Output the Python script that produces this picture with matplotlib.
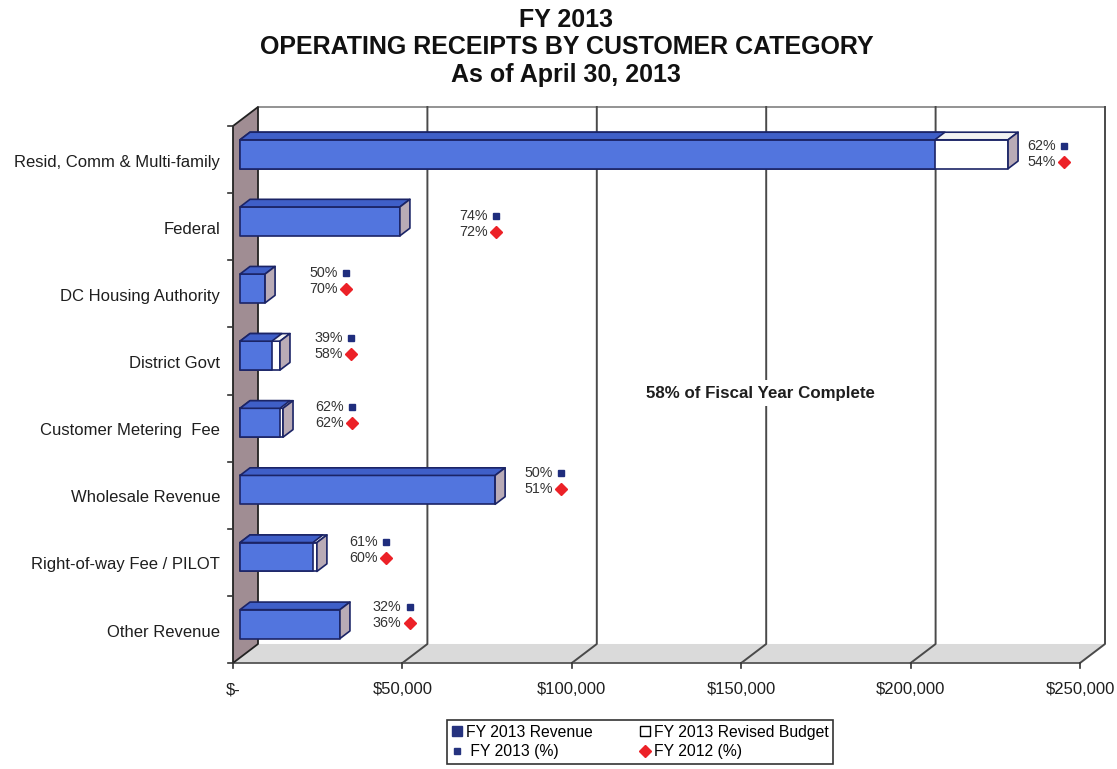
import matplotlib
matplotlib.use("Agg")
import matplotlib.pyplot as plt
from matplotlib.patches import Polygon
from matplotlib.lines import Line2D

plt.rcParams['font.family'] = ['Liberation Sans', 'DejaVu Sans']

# receipts by customer category, FY 2013 through April 30
categories = ['Resid, Comm & Multi-family', 'Federal', 'DC Housing Authority',
              'District Govt', 'Customer Metering  Fee', 'Wholesale Revenue',
              'Right-of-way Fee / PILOT', 'Other Revenue']
revenue = [205100, 47200, 7400, 9400, 11800, 75300, 21500, 29500]
budget = [226700, 47200, 7400, 11800, 12700, 75300, 22700, 29500]
pct_2013 = [62, 74, 50, 39, 62, 50, 61, 32]
pct_2012 = [54, 72, 70, 58, 62, 51, 60, 36]

x_ticks = [0, 50000, 100000, 150000, 200000, 250000]
x_ticklabels = ['$-', '$50,000', '$100,000', '$150,000', '$200,000', '$250,000']
xmax = 250000

# where the percent callouts sit (dollars, category offset)
pct_x = [245300, 77600, 33350, 34800, 35100, 96800, 45200, 52200]
pct_dy = [-0.20, -0.16, -0.31, -0.34, -0.31, -0.33, -0.30, -0.34]

BLUE = '#5275de'
BLUE_TOP = '#3f5fc8'
NAVY = '#1b2466'
END = '#b9abb6'
WALL = '#a08d93'
FLOOR = '#dadada'
TXT = '#1e1e1e'

fig = plt.figure(figsize=(11.17, 7.69), dpi=100)
ax = fig.add_axes([233 / 1117, 106 / 769, 847 / 1117, 537 / 769])
ax.set_xlim(0, xmax)
ax.set_ylim(len(categories) - 0.5, -0.5)
ax.axis('off')

# depth of the 3-D box, in data units
DX = 25 * xmax / 847
DY = -19 / 67.1
ybot = len(categories) - 0.5
ytop = -0.5


def poly(pts, fc, ec='none', lw=1.0, z=1):
    ax.add_patch(Polygon(pts, closed=True, facecolor=fc, edgecolor=ec,
                         linewidth=lw, zorder=z, clip_on=False,
                         joinstyle='round'))


def box(x0, x1, yc, h, face, top, side, z, draw_side=True):
    f0, f1 = 0.28, 0.68
    ax0, ax1 = x0 + f0 * DX, x1 + f0 * DX
    bx0, bx1 = x0 + f1 * DX, x1 + f1 * DX
    yt, yb = yc + f0 * DY - h / 2, yc + f0 * DY + h / 2
    dy = (f1 - f0) * DY
    poly([(ax0, yt), (ax1, yt), (ax1, yb), (ax0, yb)], face, NAVY, 1.2, z)
    poly([(ax0, yt), (ax1, yt), (bx1, yt + dy), (bx0, yt + dy)],
         top, NAVY, 1.2, z)
    if draw_side:
        poly([(ax1, yt), (bx1, yt + dy), (bx1, yb + dy), (ax1, yb)],
             side, NAVY, 1.2, z)


# floor and left wall
poly([(0, ybot), (xmax, ybot), (xmax + DX, ybot + DY), (DX, ybot + DY)],
     FLOOR, z=0)
poly([(0, ytop), (DX, ytop + DY), (DX, ybot + DY), (0, ybot)],
     WALL, '#222222', 1.3, z=0.5)

# back wall top edge and gridlines running down onto the floor
ax.plot([DX, xmax + DX], [ytop + DY, ytop + DY], color='#8a8a8a', lw=1.3,
        clip_on=False, zorder=0.2)
for t in x_ticks[1:]:
    ax.plot([t + DX, t + DX, t], [ytop + DY, ybot + DY, ybot],
            color='#4a4a4a', lw=1.4, clip_on=False, zorder=0.3)

# front axis with ticks and labels
ax.plot([0, xmax], [ybot, ybot], color='#555555', lw=1.3, clip_on=False,
        zorder=0.4)
for t, lab in zip(x_ticks, x_ticklabels):
    ax.plot([t, t], [ybot, ybot + 0.07], color='#333333', lw=1.2,
            clip_on=False)
    ax.text(t, ybot + 0.4, lab, ha='center', va='center', fontsize=12,
            color=TXT)

# category axis ticks and labels
for k in range(len(categories) + 1):
    yk = k - 0.5
    ax.plot([-1500, 0], [yk, yk], color='#333333', lw=1.2, clip_on=False)
for i, cat in enumerate(categories):
    ax.text(-3800, i + 0.04, cat, ha='right', va='center', fontsize=12,
            color=TXT)

# bars: revised budget behind, revenue in front
h = 0.43
for i in range(len(categories)):
    if budget[i] > revenue[i]:
        box(0, budget[i], i, h, 'white', '#f2f2f2', END, z=2)
        box(0, revenue[i], i, h, BLUE, BLUE_TOP, END, z=3, draw_side=False)
    else:
        box(0, revenue[i], i, h, BLUE, BLUE_TOP, END, z=3)

# percent of budget callouts
for i in range(len(categories)):
    y13 = i + pct_dy[i]
    y12 = y13 + 0.24
    ax.plot(pct_x[i], y13, marker='s', ms=5, color='#1f2d7d', ls='none',
            clip_on=False, zorder=5)
    ax.plot(pct_x[i], y12, marker='D', ms=6, color='#ec2127', ls='none',
            clip_on=False, zorder=5)
    ax.annotate('%d%%' % pct_2013[i], (pct_x[i], y13), xytext=(-6, 0),
                textcoords='offset points', ha='right', va='center',
                fontsize=10.3, color='#333333', annotation_clip=False)
    ax.annotate('%d%%' % pct_2012[i], (pct_x[i], y12), xytext=(-6, 0),
                textcoords='offset points', ha='right', va='center',
                fontsize=10.3, color='#333333', annotation_clip=False)

ax.text(155550, 3.48, '58% of Fiscal Year Complete', ha='center',
        va='center', fontsize=12.2, fontweight='bold', color=TXT, zorder=4,
        bbox=dict(facecolor='white', edgecolor='none', pad=4))

fig.text(0.507, 0.99, 'FY 2013\nOPERATING RECEIPTS BY CUSTOMER CATEGORY\n'
         'As of April 30, 2013', ha='center', va='top', fontsize=18,
         fontweight='bold', linespacing=1.2, color='#111111')

handles = [
    Line2D([], [], marker='s', ls='none', ms=7, color='#26337f'),
    Line2D([], [], marker='s', ls='none', ms=4.5, color='#26337f'),
    Line2D([], [], marker='s', ls='none', ms=7, markerfacecolor='white',
           markeredgecolor='black'),
    Line2D([], [], marker='D', ls='none', ms=6, color='#ec2127'),
]
labels = ['FY 2013 Revenue', ' FY 2013 (%)', 'FY 2013 Revised Budget',
          'FY 2012 (%)']
leg = fig.legend(handles, labels, ncol=2, loc='center',
                 bbox_to_anchor=(640 / 1117, 1 - 742 / 769), fontsize=11.3,
                 frameon=True, fancybox=False, edgecolor='black',
                 handlelength=0.7, handletextpad=0.2, columnspacing=3.0,
                 borderpad=0.3, labelspacing=0.3)
leg.get_frame().set_linewidth(1.2)

fig.savefig('out.png', dpi=100, facecolor='white')
